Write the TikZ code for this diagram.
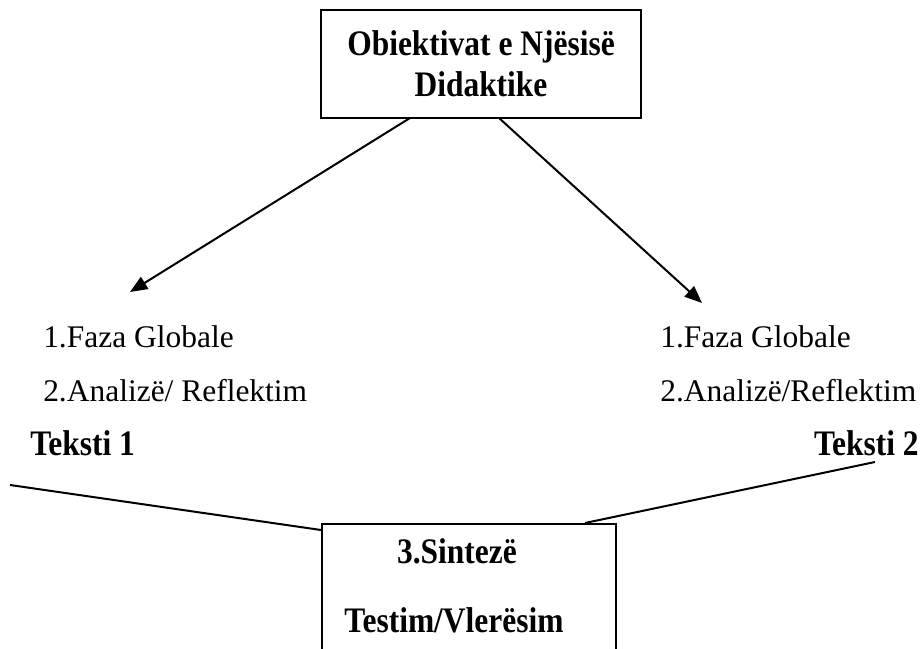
\documentclass[tikz,border=0pt]{standalone}
\usepackage{fontspec}
\setmainfont{Liberation Serif}
\usetikzlibrary{arrows.meta}
\newcommand{\vstretchtxt}[1]{\scalebox{1}[1.14]{#1}}
\begin{document}
\begin{tikzpicture}[x=0.75pt,y=-0.75pt,
  txt/.style={inner sep=0pt,font=\fontsize{23.6pt}{28.5pt}\selectfont},
  btxt/.style={txt,font=\fontsize{23.6pt}{30.75pt}\selectfont\bfseries},
  box/.style={draw,line width=1.5pt,inner sep=0pt},
  conn/.style={line width=1.5pt},
  arr/.style={conn,-{Triangle[length=13pt,width=10.5pt]}}]
\useasboundingbox (0,0) rectangle (922,649);
% top box
\node[box,minimum width=240pt,minimum height=81pt,align=center,btxt,draw] (obj) at (481,64)
  {\vstretchtxt{Obiektivat e Njësisë}\\\vstretchtxt{Didaktike}};
% left column
\node[txt,anchor=base west] (l1) at (43,348) {1.Faza Globale};
\node[txt,anchor=base west] (l2) at (43,402) {2.Analizë/ Reflektim};
\node[btxt,anchor=base west] (t1) at (30,455) {\vstretchtxt{Teksti 1}};
% right column
\node[txt,anchor=base west] (r1) at (660,348) {1.Faza Globale};
\node[txt,anchor=base west] (r2) at (660,402) {2.Analizë/Reflektim};
\node[btxt,anchor=base east] (t2) at (919,455) {\vstretchtxt{Teksti 2}};
% bottom box (cut by the page edge)
\begin{scope}
\clip (0,0) rectangle (922,649);
\node[box,minimum width=220.5pt,minimum height=150pt,anchor=north west] (synth) at (321,523) {};
\end{scope}
\node[btxt,anchor=base] (s1) at (457,563) {\vstretchtxt{3.Sintezë}};
\node[btxt,anchor=base] (s2) at (454,632) {\vstretchtxt{Testim/Vlerësim}};
% arrow ends and line ends
\coordinate (a1s) at (410,118);
\coordinate (a1e) at (130,292);
\coordinate (a2s) at (499,118);
\coordinate (a2e) at (702,303);
\coordinate (ll) at (10,485);
\coordinate (lr) at (321,530);
\coordinate (rl) at (585,523);
\coordinate (rr) at (875,462);
\draw[arr] (a1s) -- (a1e);
\draw[arr] (a2s) -- (a2e);
\draw[conn] (ll) -- (lr);
\draw[conn] (rr) -- (rl);
\end{tikzpicture}
\end{document}
